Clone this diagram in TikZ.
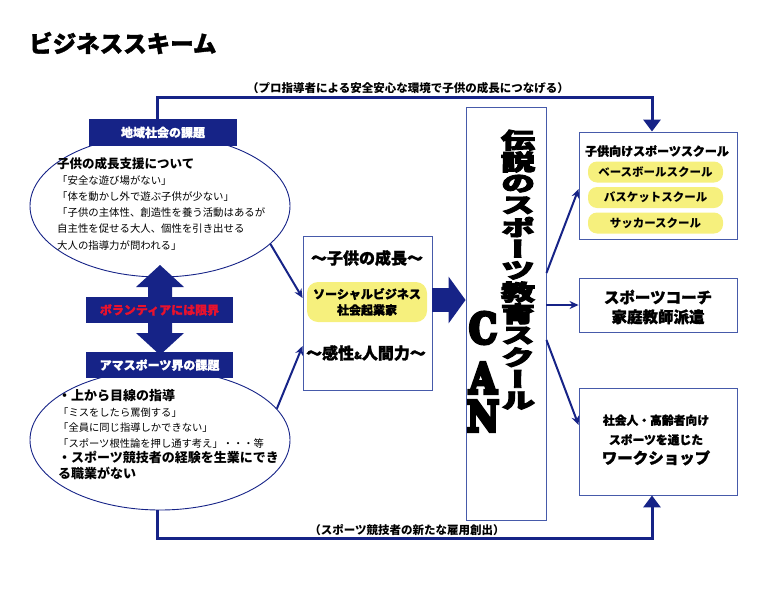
\documentclass[tikz,border=0pt]{standalone}
\usepackage{graphicx}
\usepackage{fontspec}
\setmainfont{Noto Sans CJK JP}
\newfontfamily\heavyjp{Noto Sans CJK JP}[BoldFeatures={FakeBold=1.5}]
\newfontfamily\vertjp{Noto Sans CJK JP}[RawFeature=+vert, BoldFeatures={FakeBold=4}]
\newfontfamily\slabfont{DejaVu Serif}[FakeBold=9, BoldFeatures={FakeBold=9}]
\usetikzlibrary{arrows.meta, positioning, calc, shapes.geometric}

\newcommand{\fsz}[1]{\fontsize{#1}{#1}\selectfont}

\definecolor{navy}{RGB}{22,35,135}
\definecolor{boxblue}{RGB}{70,90,170}
\definecolor{pillyellow}{RGB}{246,240,125}
\definecolor{alertred}{RGB}{232,18,45}

\tikzset{
  issue/.style={ellipse, draw=navy, line width=0.9pt, minimum width=260pt, minimum height=142pt, inner sep=0pt},
  tag/.style={fill=navy, text=white, font=\heavyjp\bfseries\fsz{12}, minimum width=148pt, minimum height=27pt, inner sep=0pt},
  plain/.style={draw=boxblue, line width=0.9pt, inner sep=0pt},
  pill/.style={fill=pillyellow, rounded corners=9pt, inner sep=0pt, minimum width=135pt, minimum height=21pt, font=\bfseries\fsz{11.5}},
  vchar/.style={font=\vertjp\bfseries\fsz{22}, inner sep=0pt},
  slab/.style={font=\slabfont\bfseries\fsz{32}, inner sep=0pt},
  flow/.style={navy, line width=3pt, -{Triangle[length=12pt,width=17pt]}},
  link/.style={navy, line width=2pt, -{Stealth[length=9pt,width=8pt]}},
  note/.style={font=\bfseries\fsz{11.5}, inner sep=0pt}
}

\begin{document}
\begin{tikzpicture}[x=1pt,y=-1pt]
\useasboundingbox (0,0) rectangle (770,600);
\node[anchor=west, font=\heavyjp\bfseries\fsz{23.5}, inner sep=0pt] (title) at (29,43) {ビジネススキーム};

% Community issues
\node[issue] (issueA) at (160,206) {};
\node[anchor=north west, align=left, inner sep=0pt, font=\fontsize{10.4}{16.2}\selectfont] (textA) at (57,157)
  {{\bfseries\fsz{12.5}子供の成長支援について}\\「安全な遊び場がない」\\「体を動かし外で遊ぶ子供が少ない」\\「子供の主体性、創造性を養う活動はあるが\\自主性を促せる大人、個性を引き出せる\\大人の指導力が問われる」};

% Amateur sports issues
\node[issue, minimum height=140pt] (issueB) at (160,440) {};
\node[anchor=north west, align=left, inner sep=0pt, font=\fontsize{10.3}{15.5}\selectfont] (textB) at (58,389.5)
  {{\bfseries\fsz{13}・上から目線の指導}\\「ミスをしたら罵倒する」\\「全員に同じ指導しかできない」\\「スポーツ根性論を押し通す考え」・・・等\\{\bfseries\fsz{13}・スポーツ競技者の経験を生業にでき}\\{\bfseries\fsz{13}る職業がない}};

% Double arrow between the two issues
\fill[navy] (160,265) -- (184,287) -- (172,287) -- (172,333) -- (184,333) -- (160,355)
  -- (136,333) -- (148,333) -- (148,287) -- (136,287) -- cycle;
\node[tag] (tagA) at (163,132.5) {地域社会の課題};
\node[tag, text=alertred, minimum width=147pt, minimum height=26pt] (limit) at (159.5,310) {ボランティアには限界};
\node[tag, minimum width=147pt, minimum height=26pt] (tagB) at (159.5,365) {アマスポーツ界の課題};

% Growth box
\node[plain, minimum width=129pt, minimum height=154pt] (growth) at (367.5,313) {};
\node[font=\heavyjp\bfseries\fsz{16}, inner sep=0pt] (growthA) at (367,258) {～子供の成長～};
\node[pill, minimum width=120pt, minimum height=40pt, rounded corners=11pt, align=center,
  font=\heavyjp\bfseries\fontsize{12}{16}\selectfont] (social) at (367,302) {ソーシャルビジネス\\社会起業家};
\node[font=\heavyjp\bfseries\fsz{16}, inner sep=0pt] (growthB) at (366,353) {～感性{\fsz{10}\&}人間力～};

% School
\node[plain, minimum width=80pt, minimum height=413pt] (school) at (506,313.5) {};
\foreach \ch [count=\i] in {伝,説,の,ス,ポ,ー,ツ,教,育,ス,ク,ー,ル}
  \node[vchar] (name\i) at (518,{118.5+21.7*\i}) {\scalebox{1.55}[1]{\ch}};
\foreach \ltr/\yy in {C/328,A/378,N/416}
  \node[slab] (can\ltr) at (483,\yy) {\scalebox{1.1}[1.3]{\ltr}};

\draw[navy, line width=24pt, -{Triangle[length=17pt,width=46pt]}] ([yshift=13pt]growth.east) -- ([yshift=13pt]growth.east -| school.west);

% Services
\node[plain, minimum width=158pt, minimum height=107pt] (kids) at (658,185.5) {};
\node[font=\heavyjp\bfseries\fsz{12}, inner sep=0pt] (kidsT) at (657,151) {子供向けスポーツスクール};
\foreach \nm/\lb/\yy in {base/ベースボールスクール/172, bask/バスケットスクール/197.5, socc/サッカースクール/223}
  \node[pill] (\nm) at (655.5,\yy) {\lb};

\node[plain, minimum width=158pt, minimum height=54pt] (coach) at (658,305) {};
\node[font=\heavyjp\bfseries\fontsize{15.5}{19.5}\selectfont, align=center, inner sep=0pt] (coachT) at (658,307) {スポーツコーチ\\家庭教師派遣};

\node[plain, minimum width=158pt, minimum height=107pt] (adult) at (658,441.5) {};
\node[font=\heavyjp\bfseries\fontsize{11.8}{19.5}\selectfont, align=center, inner sep=0pt] (adultT) at (656,440)
  {社会人・高齢者向け\\スポーツを通じた\\{\fsz{15.5}ワークショップ}};

% Connectors
\draw[link] (issueA.-19) -- ([yshift=15pt]growth.west);
\draw[link] (issueB.15) -- ([yshift=-33pt]growth.west);
\draw[link] ([yshift=40.5pt]school.east) -- ([yshift=-3.5pt]kids.west);
\draw[link] (coach.west -| school.east) -- (coach.west);
\draw[link] ([yshift=-26.5pt]school.east) -- ([yshift=16.5pt]adult.west);

\coordinate (topL) at (157,97);
\coordinate (topR) at (652,97);
\draw[flow] (tagA.north -| topL) -- (topL) -- (topR) -- (kids.north -| topR);
\node[note] (topNote) at (408,88) {（プロ指導者による安全安心な環境で子供の成長につなげる）};

\coordinate (botL) at (157,538);
\coordinate (botR) at (652,538);
\draw[flow] (issueB.south -| botL) -- (botL) -- (botR) -- (adult.south -| botR);
\node[note] (botNote) at (407,530) {（スポーツ競技者の新たな雇用創出）};
\end{tikzpicture}
\end{document}
